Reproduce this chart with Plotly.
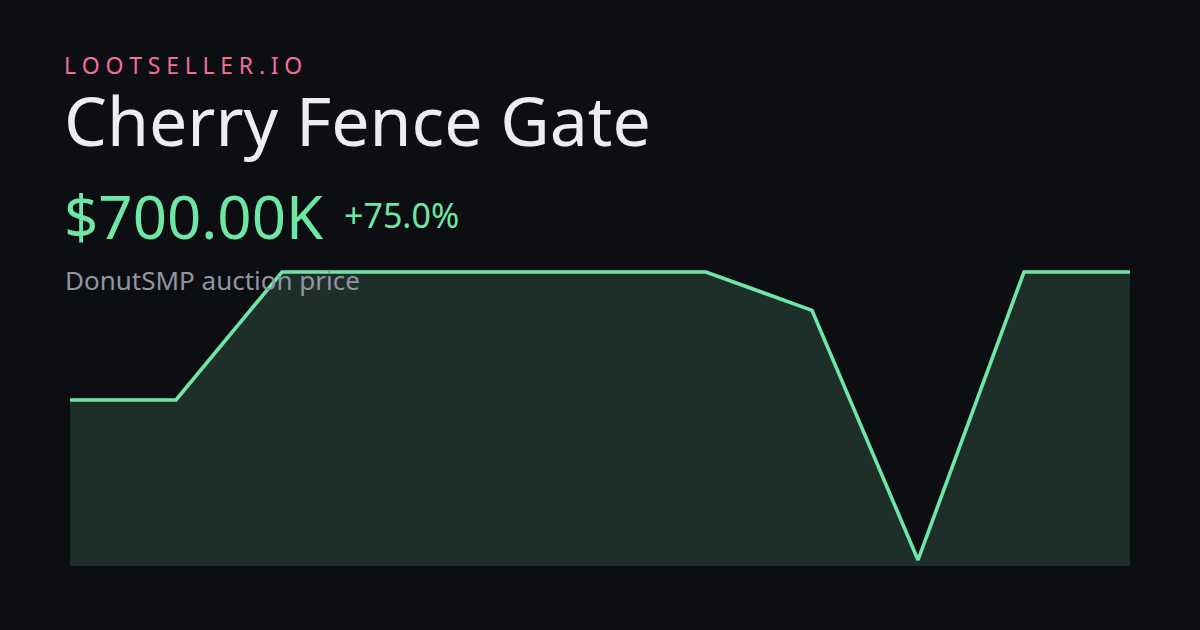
import plotly.graph_objects as go

# ---- data ----
snapshots = list(range(11))
prices_k = [400, 400, 700, 700, 700, 700, 700, 610, 25, 700, 700]
brand = "LOOTSELLER.IO"
item_name = "Cherry Fence Gate"
price_label = "$700.00K"
change_label = "+75.0%"
subtitle = "DonutSMP auction price"

W, H = 1200, 630
ML, MR, MT, MB = 70, 70, 266, 64
PH = H - MT - MB

BG = "#0d0e12"
LINE = "#6ee7a6"
FILL = "#1e2f2a"

def py(pixel_y):
    return (H - MB - pixel_y) / PH

def px(pixel_x):
    return (pixel_x - ML) / (W - ML - MR)

fig = go.Figure()
fig.add_trace(go.Scatter(
    x=snapshots, y=prices_k, mode="lines",
    line=dict(color=LINE, width=3.6),
    fill="tozeroy", fillcolor=FILL,
    hoverinfo="skip",
))

spaced_brand = "\u2005".join(brand)

def ann(text, x, ybase, size, color, family="Noto Sans"):
    fig.add_annotation(
        text=text, xref="paper", yref="paper",
        x=px(x), y=py(ybase), xanchor="left", yanchor="bottom",
        showarrow=False, align="left",
        font=dict(family=family, size=size, color=color),
        borderpad=0,
    )

ann(spaced_brand, 63, 82, 23, "#ee6f9c")
ann(item_name, 63, 167, 68, "#ecedf2")
ann(price_label, 63, 258, 60, "#6ee7a6")
ann(change_label, 343, 239, 34, "#6ee7a6")
ann(subtitle, 64, 299, 26, "#9294a3")

fig.update_layout(
    width=W, height=H,
    margin=dict(l=ML, r=MR, t=MT, b=MB, pad=0),
    paper_bgcolor=BG, plot_bgcolor=BG,
    showlegend=False,
    xaxis=dict(range=[0, 10], visible=False, fixedrange=True),
    yaxis=dict(range=[10.94, 714.06], visible=False, fixedrange=True),
)

fig.write_html(
    "out.html",
    config={"displayModeBar": False},
    post_script="document.body.style.margin='0';document.body.style.background='" + BG + "';",
)
